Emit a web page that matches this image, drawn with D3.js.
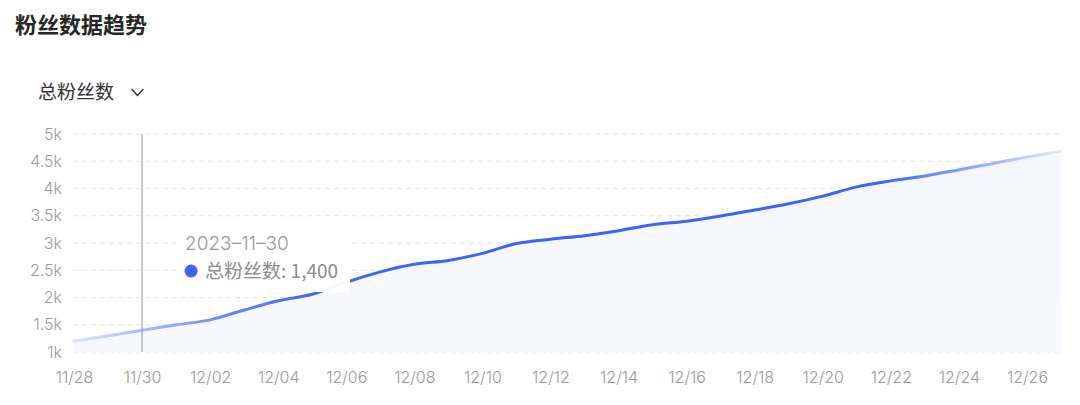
<!DOCTYPE html>
<html>
<head>
<meta charset="utf-8">
<script src="https://cdn.jsdelivr.net/npm/d3@7"></script>
<style>
  html, body { margin: 0; padding: 0; background: #fff; }
  svg { display: block; font-family: "Inter", "Noto Sans CJK SC", sans-serif; }
</style>
</head>
<body>
<svg id="chart" width="1080" height="405"></svg>
<script>
// ---- data ----
const dates = ["2023-11-28","2023-11-29","2023-11-30","2023-12-01","2023-12-02","2023-12-03","2023-12-04","2023-12-05","2023-12-06","2023-12-07","2023-12-08","2023-12-09","2023-12-10","2023-12-11","2023-12-12","2023-12-13","2023-12-14","2023-12-15","2023-12-16","2023-12-17","2023-12-18","2023-12-19","2023-12-20","2023-12-21","2023-12-22","2023-12-23","2023-12-24","2023-12-25","2023-12-26","2023-12-27"];
const fans = [1200,1300,1400,1500,1590,1770,1940,2060,2280,2470,2610,2680,2810,2990,3070,3135,3225,3335,3400,3495,3605,3720,3860,4030,4140,4230,4345,4460,4580,4690];
const yTicks = [1000,1500,2000,2500,3000,3500,4000,4500,5000];
const yTickLabels = ["1k","1.5k","2k","2.5k","3k","3.5k","4k","4.5k","5k"];
const xTickDates = ["2023-11-28","2023-11-30","2023-12-02","2023-12-04","2023-12-06","2023-12-08","2023-12-10","2023-12-12","2023-12-14","2023-12-16","2023-12-18","2023-12-20","2023-12-22","2023-12-24","2023-12-26"];
const title = "粉丝数据趋势";
const seriesName = "总粉丝数";
const tooltipIndex = 2;

// ---- setup ----
const parse = d3.timeParse("%Y-%m-%d");
const data = dates.map((d, i) => ({ date: parse(d), value: fans[i] }));
const svg = d3.select("#chart");

const x = d3.scaleTime().domain(d3.extent(data, d => d.date)).range([74, 1061]);
const y = d3.scaleLinear().domain([1000, 5000]).range([352, 134]);

// title
svg.append("text").attr("x", 15).attr("y", 33)
  .attr("font-size", 22).attr("font-weight", 600).attr("fill", "#262626")
  .attr("font-family", "'Noto Sans CJK SC', sans-serif")
  .text(title);

// dropdown
svg.append("text").attr("x", 38).attr("y", 99)
  .attr("font-size", 19).attr("fill", "#333")
  .attr("font-family", "'Noto Sans CJK SC', sans-serif")
  .text(seriesName);
svg.append("path").attr("d", "M132,89.5 L137.5,95.5 L143,89.5")
  .attr("fill", "none").attr("stroke", "#333").attr("stroke-width", 1.5)
  .attr("stroke-linecap", "round").attr("stroke-linejoin", "round");

// defs
const defs = svg.append("defs");
const lg = defs.append("linearGradient").attr("id", "lineGrad")
  .attr("gradientUnits", "userSpaceOnUse").attr("x1", 74).attr("x2", 1061).attr("y1", 0).attr("y2", 0);
lg.append("stop").attr("offset", "0").attr("stop-color", "#3d64f5").attr("stop-opacity", 0.15);
lg.append("stop").attr("offset", "0.15").attr("stop-color", "#3d64f5").attr("stop-opacity", 0.75);
lg.append("stop").attr("offset", "0.25").attr("stop-color", "#3d64f5").attr("stop-opacity", 1);
lg.append("stop").attr("offset", "0.82").attr("stop-color", "#3d64f5").attr("stop-opacity", 1);
lg.append("stop").attr("offset", "1").attr("stop-color", "#3d64f5").attr("stop-opacity", 0.12);

const ag = defs.append("linearGradient").attr("id", "areaGrad").attr("x1", 0).attr("x2", 0).attr("y1", 0).attr("y2", 1);
ag.append("stop").attr("offset", "0").attr("stop-color", "#f4f6fe");
ag.append("stop").attr("offset", "1").attr("stop-color", "#f8f9fe");

// grid
svg.append("g").selectAll("line").data(yTicks).join("line")
  .attr("x1", 73).attr("x2", 1061)
  .attr("y1", d => y(d)).attr("y2", d => y(d))
  .attr("stroke", "#e6e6e6").attr("stroke-width", 1).attr("stroke-dasharray", "5,4");

// y axis labels
const yAxis = d3.axisLeft(y).tickValues(yTicks).tickFormat((d, i) => yTickLabels[i]).tickSize(0).tickPadding(0);
const yg = svg.append("g").attr("transform", "translate(62,0)").call(yAxis);
yg.select(".domain").remove();
yg.selectAll("text").attr("font-size", 16).attr("font-weight", 300).attr("fill", "#999").attr("font-family", "'Inter', sans-serif");

// x axis labels
const fmt = d3.timeFormat("%m/%d");
const xAxis = d3.axisBottom(x).tickValues(xTickDates.map(parse)).tickFormat(fmt).tickSize(0).tickPadding(0);
const xg = svg.append("g").attr("transform", "translate(0,372)").call(xAxis);
xg.select(".domain").remove();
xg.selectAll("text").attr("font-size", 16).attr("font-weight", 300).attr("fill", "#999").attr("font-family", "'Inter', sans-serif");

// area and line
const curve = d3.curveMonotoneX;
const area = d3.area().x(d => x(d.date)).y0(y(1000)).y1(d => y(d.value)).curve(curve);
svg.append("path").datum(data).attr("d", area).attr("fill", "url(#areaGrad)");

const line = d3.line().x(d => x(d.date)).y(d => y(d.value)).curve(curve);
svg.append("path").datum(data).attr("d", line)
  .attr("fill", "none").attr("stroke", "url(#lineGrad)").attr("stroke-width", 3)
  .attr("stroke-linecap", "round");

// crosshair
const td = data[tooltipIndex];
svg.append("line").attr("x1", x(td.date)).attr("x2", x(td.date))
  .attr("y1", y(5000)).attr("y2", y(1000))
  .attr("stroke", "#a6a6a6").attr("stroke-width", 1.2);

// tooltip
const tx = x(td.date) + 34, ty = 223;
svg.append("rect").attr("x", tx).attr("y", ty).attr("width", 174).attr("height", 69).attr("rx", 4)
  .attr("fill", "#fff").attr("fill-opacity", 0.96);
svg.append("text").attr("x", tx + 9).attr("y", ty + 27)
  .attr("font-size", 19).attr("font-weight", 300).attr("fill", "#999").attr("font-family", "'Inter', sans-serif")
  .text(d3.timeFormat("%Y-%m-%d")(td.date).replace(/-/g, "\u2013"));
svg.append("circle").attr("cx", tx + 15).attr("cy", ty + 48).attr("r", 6.5).attr("fill", "#3d64f5");
svg.append("text").attr("x", tx + 29).attr("y", ty + 55)
  .attr("font-size", 19).attr("fill", "#8c8c8c").attr("font-family", "'Noto Sans CJK SC', sans-serif")
  .text(seriesName + ": " + d3.format(",")(td.value));
</script>
</body>
</html>
